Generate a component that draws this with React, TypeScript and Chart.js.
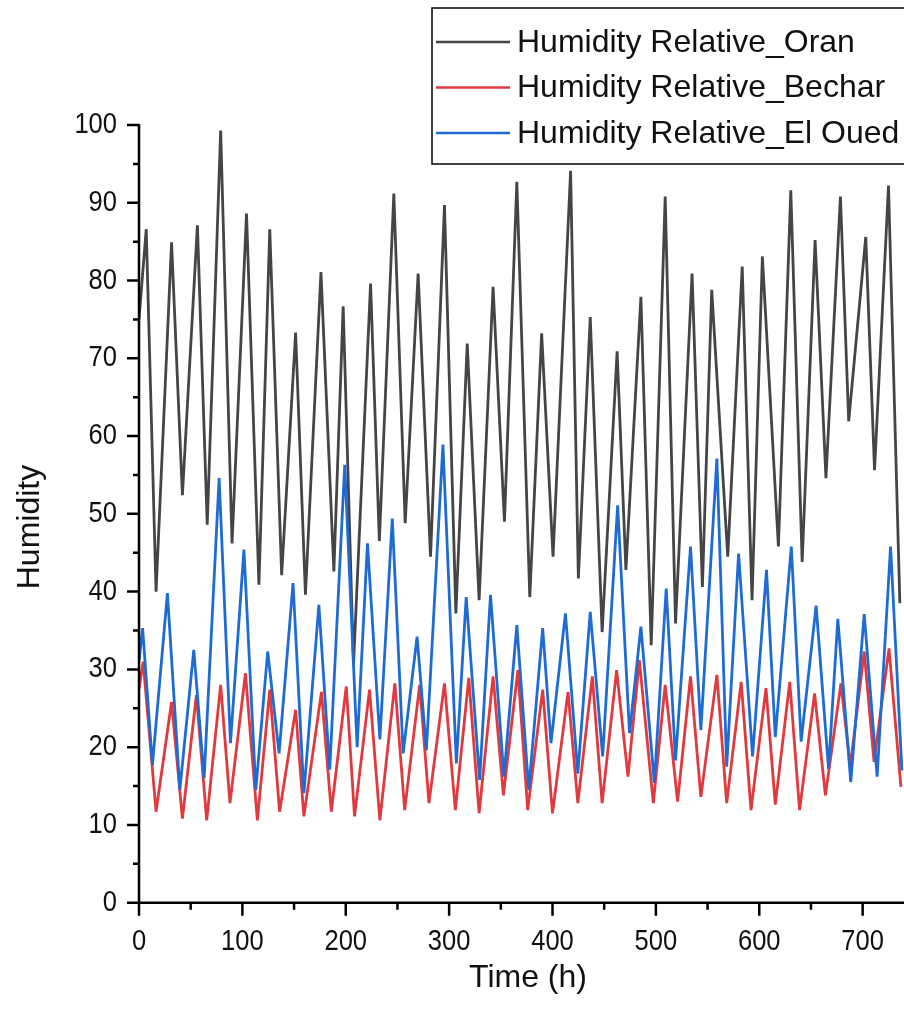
import React, { useEffect, useRef } from "react";
import { Chart, registerables } from "chart.js";

Chart.register(...registerables);

// ---------- data (daily peaks & troughs) ----------
const seriesLabels = [
  "Humidity Relative_Oran",
  "Humidity Relative_Bechar",
  "Humidity Relative_El Oued",
];
const seriesColors = ["#454545", "#e0393e", "#1f6bd4"];

const oranHours = [
  0, 7, 16.5, 31.5, 42, 56.5, 66, 79, 90, 104, 116, 126.5, 138, 151.5, 161, 176,
  188.5, 197.5, 207.5, 224, 232.5, 246.5, 257.5, 270, 282, 295.5, 306.5, 317.5,
  329, 342.5, 353.5, 365.5, 378, 389.5, 400.5, 417.5, 425, 436.5, 448, 462.5, 471,
  485.5, 495.5, 509, 519, 535, 545, 554, 569.5, 583.5, 593, 603, 618.5, 630.5,
  641.5, 654, 664.5, 678.5, 686.5, 703, 711.5, 725, 736,
];
const oranValues = [
  75, 86.6, 40.0, 84.9, 52.4, 87.1, 48.6, 99.3, 46.2, 88.6, 40.9, 86.6, 42.1, 73.3,
  39.6, 81.1, 42.6, 76.7, 30.6, 79.6, 46.5, 91.2, 48.8, 80.9, 44.5, 89.7, 37.2,
  71.9, 38.9, 79.2, 49.0, 92.7, 39.3, 73.2, 44.5, 94.1, 41.7, 75.3, 34.8, 70.9,
  42.8, 77.9, 33.1, 90.8, 35.9, 80.9, 40.6, 78.8, 44.5, 81.8, 38.9, 83.1, 45.8,
  91.6, 43.8, 85.2, 54.6, 90.8, 61.9, 85.6, 55.6, 92.2, 38.5,
];

const becharHours = [
  0, 4, 16.5, 31.5, 42, 55.5, 65.5, 79, 88, 103, 114.5, 126.5, 136, 151.5, 159.5,
  176.5, 186, 200.5, 208.5, 223, 233, 247.5, 257, 271.5, 280.5, 295.5, 306, 319,
  329, 342.5, 352.5, 366.5, 376, 390.5, 400, 415, 424.5, 438.5, 448, 462, 473, 484,
  497.5, 509, 521, 533.5, 543.5, 559, 568.5, 582.5, 592, 606.5, 615.5, 629.5, 639,
  653.5, 664, 679, 688, 701.5, 711, 725.5, 737,
];
const becharValues = [
  27.5, 31, 11.7, 25.8, 10.8, 26.7, 10.6, 28.0, 12.8, 29.5, 10.6, 27.4, 11.7, 24.8,
  11.1, 27.1, 11.7, 27.8, 11.1, 27.4, 10.6, 28.2, 11.9, 28.0, 12.8, 28.2, 11.9,
  28.9, 11.5, 29.1, 13.8, 29.9, 11.9, 27.4, 11.5, 27.1, 12.8, 29.1, 12.8, 29.9,
  16.2, 31.2, 12.8, 28.0, 13.0, 29.1, 13.6, 29.3, 12.8, 28.4, 11.9, 27.6, 12.6,
  28.4, 11.9, 26.9, 13.8, 28.2, 17.5, 32.3, 18.1, 32.7, 14.9,
];

const elOuedHours = [
  0, 3.5, 13, 27.5, 39.5, 53, 63, 77.5, 88.5, 101.5, 113, 124.5, 135.5, 149, 159.5,
  174, 184.5, 199, 211, 221, 233, 245, 255.5, 269, 278, 294, 307, 316.5, 329.5, 340,
  353, 365.5, 377, 390.5, 398.5, 412.5, 424.5, 436.5, 448.5, 463, 474.5, 485.5,
  498.5, 510, 519, 533.5, 543.5, 559, 568.5, 580, 593.5, 607, 615.5, 631, 640.5,
  655, 667, 676, 688.5, 701.5, 714, 727, 738,
];
const elOuedValues = [
  31, 35.3, 17.7, 39.8, 14.5, 32.5, 16.0, 54.6, 20.5, 45.4, 14.5, 32.3, 19.2, 41.1,
  14.1, 38.3, 17.1, 56.3, 20.0, 46.2, 21.0, 49.4, 19.2, 34.2, 19.6, 58.9, 17.9,
  39.3, 15.8, 39.6, 16.2, 35.7, 14.5, 35.3, 20.5, 37.2, 16.6, 37.4, 18.8, 51.1,
  21.8, 35.5, 15.4, 40.4, 18.3, 45.8, 22.2, 57.1, 17.5, 44.9, 18.8, 42.8, 21.3,
  45.8, 20.7, 38.2, 17.2, 36.5, 15.5, 37.1, 16.2, 45.8, 17,
];

const xTickValues = [0, 100, 200, 300, 400, 500, 600, 700];
const yTickValues = [0, 10, 20, 30, 40, 50, 60, 70, 80, 90, 100];
const xAxisTitle = "Time (h)";
const yAxisTitle = "Humidity";

// ---------- layout ----------
const W = 904;
const H = 1027;
const X_MAX = 740;

const toPoints = (xs: number[], ys: number[]) => xs.map((x, i) => ({ x, y: ys[i] }));

const decorPlugin = {
  id: "originDecor",
  afterDraw(chart: any) {
    const ctx: CanvasRenderingContext2D = chart.ctx;
    const xs = chart.scales.x;
    const ys = chart.scales.y;
    const left = chart.chartArea.left;
    const bottom = chart.chartArea.bottom;
    const top = chart.chartArea.top;
    const right = chart.chartArea.right;
    ctx.save();
    ctx.strokeStyle = "#000";
    ctx.fillStyle = "#000";
    ctx.lineWidth = 2.5;
    ctx.lineCap = "butt";

    // axis lines
    ctx.beginPath();
    ctx.moveTo(left, top - 1);
    ctx.lineTo(left, bottom + 1.2);
    ctx.moveTo(left - 1.2, bottom);
    ctx.lineTo(right + 2, bottom);
    ctx.stroke();

    // y ticks (major 10, minor 5)
    ctx.beginPath();
    for (let v = 0; v <= 100; v += 5) {
      const py = ys.getPixelForValue(v);
      const len = v % 10 === 0 ? 12 : 6;
      ctx.moveTo(left - len, py);
      ctx.lineTo(left, py);
    }
    // x ticks (major 100, minor 50)
    for (let v = 0; v <= X_MAX; v += 50) {
      const px = xs.getPixelForValue(v);
      const len = v % 100 === 0 ? 13 : 7;
      ctx.moveTo(px, bottom);
      ctx.lineTo(px, bottom + len);
    }
    ctx.stroke();

    // tick labels
    ctx.font = '29px "Liberation Sans", Arial, sans-serif';
    ctx.fillStyle = "#111";
    ctx.textBaseline = "middle";
    for (const v of yTickValues) {
      const py = ys.getPixelForValue(v);
      ctx.save();
      ctx.translate(117, py);
      ctx.scale(0.88, 1);
      ctx.textAlign = "right";
      ctx.fillText(String(v), 0, 0);
      ctx.restore();
    }
    for (const v of xTickValues) {
      const px = xs.getPixelForValue(v);
      ctx.save();
      ctx.translate(px, 942);
      ctx.scale(0.88, 1);
      ctx.textAlign = "center";
      ctx.fillText(String(v), 0, 0);
      ctx.restore();
    }

    // axis titles
    ctx.font = '32px "Liberation Sans", Arial, sans-serif';
    ctx.textAlign = "center";
    ctx.textBaseline = "middle";
    ctx.fillText(xAxisTitle, 528, 978);
    ctx.save();
    ctx.translate(30, 527);
    ctx.rotate(-Math.PI / 2);
    ctx.fillText(yAxisTitle, 0, 0);
    ctx.restore();

    // legend box
    ctx.fillStyle = "#fff";
    ctx.fillRect(432, 8, W - 432 + 20, 156);
    ctx.strokeStyle = "#000";
    ctx.lineWidth = 1.5;
    ctx.strokeRect(432, 8, W - 432 + 20, 156);
    ctx.font = '32px "Liberation Sans", Arial, sans-serif';
    ctx.textAlign = "left";
    ctx.textBaseline = "middle";
    chart.data.datasets.forEach((ds: any, i: number) => {
      const y = 42 + i * 45.5;
      ctx.strokeStyle = ds.borderColor;
      ctx.lineWidth = 2.5;
      ctx.beginPath();
      ctx.moveTo(436, y);
      ctx.lineTo(510, y);
      ctx.stroke();
      ctx.fillStyle = "#111";
      ctx.fillText(ds.label, 517, y + 1);
    });
    ctx.restore();
  },
};

export default function App() {
  const canvasRef = useRef<HTMLCanvasElement | null>(null);

  useEffect(() => {
    const canvas = canvasRef.current;
    if (!canvas) return;
    const mk = (i: number, xs: number[], ys: number[], order: number) => ({
      label: seriesLabels[i],
      data: toPoints(xs, ys),
      borderColor: seriesColors[i],
      backgroundColor: seriesColors[i],
      borderWidth: 2.8,
      pointRadius: 0,
      tension: 0,
      borderJoinStyle: "bevel" as const,
      fill: false,
      order,
    });
    const chart = new Chart(canvas, {
      type: "line",
      data: {
        datasets: [
          mk(0, oranHours, oranValues, 2),
          mk(1, becharHours, becharValues, 1),
          mk(2, elOuedHours, elOuedValues, 0),
        ],
      },
      options: {
        responsive: false,
        animation: false,
        devicePixelRatio: 1,
        layout: { padding: { top: 125, left: 139, right: 0, bottom: H - 902.7 } },
        plugins: { legend: { display: false }, tooltip: { enabled: false } },
        scales: {
          x: { type: "linear", min: 0, max: X_MAX, display: false },
          y: { type: "linear", min: 0, max: 100, display: false },
        },
      },
      plugins: [decorPlugin],
    });
    return () => chart.destroy();
  }, []);

  return (
    <div style={{ position: "absolute", left: 0, top: 0, width: W, height: H, background: "#fff" }}>
      <canvas ref={canvasRef} width={W} height={H} style={{ display: "block", width: W, height: H }} />
    </div>
  );
}
